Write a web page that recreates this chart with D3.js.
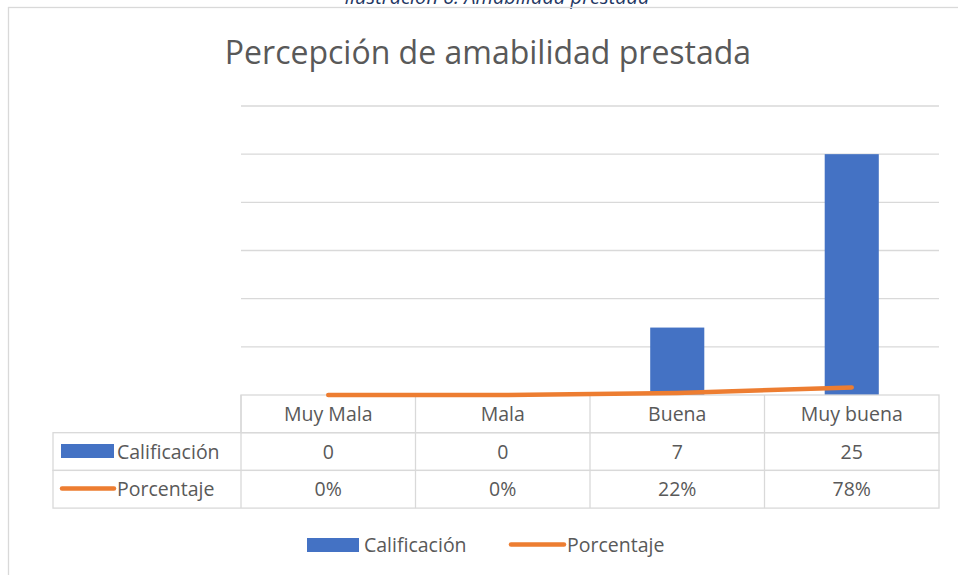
<!DOCTYPE html>
<html>
<head>
<meta charset="utf-8">
<script src="https://cdn.jsdelivr.net/npm/d3@7"></script>
<style>
  body { margin: 0; background: #fff; }
  svg { display: block; font-family: "Open Sans", sans-serif; }
</style>
</head>
<body>
<div class="d3-here"></div>
<script>
// datos
var categorias = ['Muy Mala', 'Mala', 'Buena', 'Muy buena'];
var calificacion = [0, 0, 7, 25];
var porcentaje = [0, 0, 0.22, 0.78];
var series = ['Calificación', 'Porcentaje'];
var ticksY = [0, 5, 10, 15, 20, 25, 30];

// opciones
var $azul = '#4472C4',
	$naranja = '#ED7D31',
	$gris = '#d9d9d9',
	$texto = '#595959';
var width = 958, height = 575;
var plotLeft = 241, plotRight = 939, plotTop = 106, base = 395;
var rowH = 37.7;
var fs = 19.5;

var svg = d3.select('.d3-here')
	.append('svg')
	.attr('width', width)
	.attr('height', height);

// caption cortado arriba
svg.append('text')
	.attr('x', 497).attr('y', 4)
	.attr('text-anchor', 'middle')
	.attr('font-size', 20)
	.attr('font-style', 'italic')
	.attr('fill', '#1F3864')
	.text('Ilustración 6: Amabilidad prestada');

// marco
svg.append('rect')
	.attr('x', 8.5).attr('y', 7.5)
	.attr('width', 1000).attr('height', 700)
	.attr('fill', 'none')
	.attr('stroke', $gris)
	.attr('stroke-width', 1.3);

// titulo
svg.append('text')
	.attr('x', 488).attr('y', 64)
	.attr('text-anchor', 'middle')
	.attr('font-size', 32)
	.attr('fill', $texto)
	.text('Percepción de amabilidad prestada');

// escalas
var x = d3.scaleBand().domain(categorias).range([plotLeft, plotRight]);
var y = d3.scaleLinear().domain([0, 30]).range([base, plotTop]);

// lineas de grilla
svg.append('g').selectAll('line')
	.data(ticksY.slice(1))
	.enter()
	.append('line')
	.attr('x1', plotLeft).attr('x2', plotRight)
	.attr('y1', function(d) { return y(d); })
	.attr('y2', function(d) { return y(d); })
	.attr('stroke', $gris)
	.attr('stroke-width', 1.3);

// barras
var barW = x.bandwidth() * 0.31;
svg.append('g').selectAll('rect')
	.data(calificacion)
	.enter()
	.append('rect')
	.attr('x', function(d, i) { return x(categorias[i]) + x.bandwidth() / 2 - barW / 2; })
	.attr('y', function(d) { return y(d); })
	.attr('width', barW)
	.attr('height', function(d) { return base - y(d); })
	.attr('fill', $azul);

// tabla de datos
var tabla = svg.append('g').attr('stroke', $gris).attr('stroke-width', 1.3).attr('fill', 'none');
tabla.append('rect').attr('x', plotLeft).attr('y', base).attr('width', plotRight - plotLeft).attr('height', rowH);
[0, 1].forEach(function(r) {
	tabla.append('rect')
		.attr('x', 53).attr('y', base + rowH * (r + 1))
		.attr('width', plotRight - 53).attr('height', rowH);
});
tabla.selectAll('.col')
	.data(categorias)
	.enter()
	.append('line')
	.attr('x1', function(d) { return x(d); })
	.attr('x2', function(d) { return x(d); })
	.attr('y1', base).attr('y2', base + rowH * 3);

var fmt = d3.format('.0%');
var filas = [categorias, calificacion.map(String), porcentaje.map(fmt)];
filas.forEach(function(fila, r) {
	svg.append('g').selectAll('text')
		.data(fila)
		.enter()
		.append('text')
		.attr('x', function(d, i) { return x(categorias[i]) + x.bandwidth() / 2; })
		.attr('y', base + rowH * r + rowH / 2 + 7)
		.attr('text-anchor', 'middle')
		.attr('font-size', fs)
		.attr('fill', $texto)
		.text(function(d) { return d; });
});

// claves de la tabla
svg.append('rect').attr('x', 61).attr('y', 444).attr('width', 53).attr('height', 14).attr('fill', $azul);
svg.append('line').attr('x1', 62).attr('x2', 114).attr('y1', 488.5).attr('y2', 488.5)
	.attr('stroke', $naranja).attr('stroke-width', 4.5).attr('stroke-linecap', 'round');
svg.append('g').selectAll('text')
	.data(series)
	.enter()
	.append('text')
	.attr('x', 117)
	.attr('y', function(d, i) { return base + rowH * (i + 1) + rowH / 2 + 7; })
	.attr('font-size', fs)
	.attr('fill', $texto)
	.text(function(d) { return d; });

// linea porcentaje
var line = d3.line()
	.x(function(d, i) { return x(categorias[i]) + x.bandwidth() / 2; })
	.y(function(d) { return y(d); });
svg.append('path')
	.datum(porcentaje)
	.attr('d', line)
	.attr('fill', 'none')
	.attr('stroke', $naranja)
	.attr('stroke-width', 4.5)
	.attr('stroke-linecap', 'round')
	.attr('stroke-linejoin', 'round');

// leyenda
svg.append('rect').attr('x', 307).attr('y', 538).attr('width', 52).attr('height', 14).attr('fill', $azul);
svg.append('text').attr('x', 364).attr('y', 552).attr('font-size', fs).attr('fill', $texto).text(series[0]);
svg.append('line').attr('x1', 511).attr('x2', 564).attr('y1', 544.5).attr('y2', 544.5)
	.attr('stroke', $naranja).attr('stroke-width', 4.5).attr('stroke-linecap', 'round');
svg.append('text').attr('x', 567).attr('y', 552).attr('font-size', fs).attr('fill', $texto).text(series[1]);
</script>
</body>
</html>
